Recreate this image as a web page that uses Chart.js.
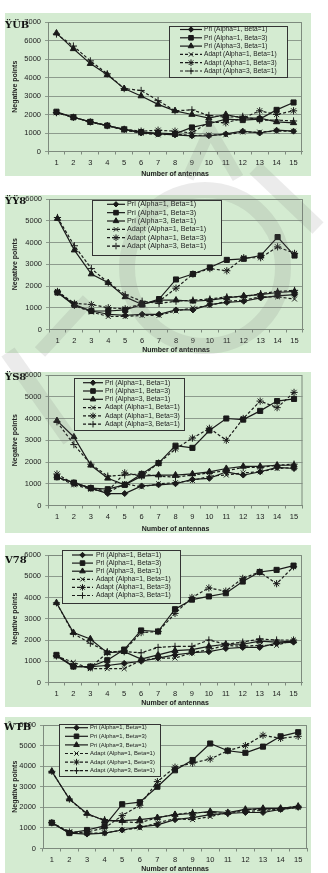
<!DOCTYPE html>
<html>
<head>
<meta charset="utf-8">
<script src="https://cdn.jsdelivr.net/npm/chart.js@4.4.0/dist/chart.umd.min.js"></script>
<style>
  body { margin:0; background:#fff; width:328px; height:873px; position:relative; overflow:hidden; }
  .bg { position:absolute; left:5px; width:306px; background:#d4ebd1; }
  .cv { position:absolute; left:0; }
  #mark { position:absolute; left:0; top:0; pointer-events:none; }
</style>
</head>
<body>
<div id="page"></div>
<svg id="mark" width="328" height="873">
  <g fill="none" stroke="rgba(110,110,110,0.14)" stroke-linecap="butt">
    <path d="M188,178 L210,130 L238,178" stroke-width="12"/>
    <circle cx="205" cy="268" r="78" stroke-width="16"/>
    <path d="M255,168 L318,228" stroke-width="16"/>
    <path d="M40,352 L88,300" stroke-width="14"/>
    <path d="M8,352 L70,440" stroke-width="16"/>
  </g>
</svg>
<script>
// ---- data ----
var antennas = ['1','2','3','4','5','6','7','8','9','10','11','12','13','14','15'];
var seriesNames = ['Pri (Alpha=1, Beta=1)', 'Pri (Alpha=1, Beta=3)', 'Pri (Alpha=3, Beta=1)',
                   'Adapt (Alpha=1, Beta=1)', 'Adapt (Alpha=1, Beta=3)', 'Adapt (Alpha=3, Beta=1)'];
var yMax = [7000, 6000, 6000, 6000, 6000];
var panelTags = ['ŸÜB', 'ŸŸ8', 'ŸS8', 'V78', 'ŴTB'];

// panel 1
var a_pri11 = [2100,1850,1600,1400,1200,1000,950,900,850,850,950,1100,1000,1150,1100];
var a_pri13 = [2150,1850,1600,1400,1200,1050,1000,950,1300,1500,1750,1700,1750,2250,2650];
var a_pri31 = [6400,5550,4750,4150,3400,3000,2550,2200,2000,1800,2000,1800,1800,1600,1550];
var a_ad11  = [2100,1850,1600,1400,1150,1000,900,950,850,900,900,1050,1050,1100,1100];
var a_ad13  = [2100,1850,1600,1400,1200,1100,1150,1100,1000,1600,1550,1800,2200,2000,2200];
var a_ad31  = [6350,5700,4900,4200,3400,3300,2750,2200,2250,1950,1850,1900,1700,1700,1650];
// panel 2
var b_pri11 = [1700,1100,850,700,650,700,700,900,900,1150,1250,1300,1450,1550,1600];
var b_pri13 = [1700,1150,850,850,900,1150,1400,2300,2550,2850,3200,3250,3400,4250,3400];
var b_pri31 = [5100,3650,2550,2150,1500,1150,1350,1350,1300,1350,1450,1550,1600,1700,1750];
var b_ad11  = [1750,1100,800,600,600,650,650,850,1000,1100,1300,1350,1500,1500,1400];
var b_ad13  = [1750,1200,1150,1000,950,1200,1300,1900,2550,2800,2700,3300,3300,3800,3500];
var b_ad31  = [5150,3850,2800,2150,1600,1300,1200,1300,1350,1400,1500,1500,1650,1750,1800];
// panel 3
var c_pri11 = [1300,1050,800,550,550,900,950,1000,1200,1250,1550,1400,1550,1750,1700];
var c_pri13 = [1300,1050,800,750,950,1450,1950,2750,2650,3450,4000,3950,4350,4800,4900];
var c_pri31 = [3900,3150,1850,1250,950,1350,1400,1400,1450,1550,1700,1800,1800,1850,1850];
var c_ad11  = [1300,950,750,600,1000,850,1000,1050,1150,1350,1400,1500,1550,1700,1750];
var c_ad13  = [1450,1000,800,650,1500,1350,1950,2600,3100,3550,3000,4000,4800,4500,5200];
var c_ad31  = [3850,2800,1900,1350,1400,1450,1350,1300,1400,1500,1600,1750,1750,1850,1900];
// panel 4
var d_pri11 = [1250,750,750,800,900,1000,1150,1300,1400,1450,1600,1650,1650,1850,1900];
var d_pri13 = [1300,750,750,1050,1550,2450,2400,3450,3900,4050,4200,4750,5200,5300,5500];
var d_pri31 = [3750,2350,2050,1400,1450,1100,1300,1500,1550,1700,1800,1800,1950,1900,1950];
var d_ad11  = [1250,950,650,650,650,1050,1150,1150,1400,1550,1750,1700,1750,1750,2000];
var d_ad13  = [1250,800,700,1400,1500,2350,2400,3250,4000,4450,4300,4900,5200,4650,5450];
var d_ad31  = [3750,2300,1850,1450,1450,1400,1650,1700,1700,2000,1800,1900,2050,2000,2000];
// panel 5
var e_pri11 = [1250,750,700,750,900,1050,1150,1400,1500,1650,1700,1750,1750,1900,2000];
var e_pri13 = [1250,750,900,1100,2150,2250,3000,3800,4300,5100,4750,4650,4950,5450,5650];
var e_pri31 = [3750,2400,1700,1350,1350,1400,1500,1650,1700,1800,1750,1900,1950,1950,2050];
var e_ad11  = [1250,800,750,750,900,1000,1250,1450,1400,1550,1750,1800,1850,1900,2000];
var e_ad13  = [1250,800,800,1000,1600,2100,3250,3950,4150,4350,4750,5000,5500,5350,5450];
var e_ad31  = [3750,2400,1650,1400,1300,1250,1500,1650,1750,1750,1700,1900,1900,1950,2050];

var panelData = [
  [a_pri11, a_pri13, a_pri31, a_ad11, a_ad13, a_ad31],
  [b_pri11, b_pri13, b_pri31, b_ad11, b_ad13, b_ad31],
  [c_pri11, c_pri13, c_pri31, c_ad11, c_ad13, c_ad31],
  [d_pri11, d_pri13, d_pri31, d_ad11, d_ad13, d_ad31],
  [e_pri11, e_pri13, e_pri31, e_ad11, e_ad13, e_ad31]
];

// ---- layout (page pixels) ----
var layouts = [
  {g:[13,176], plot:[48,302,22,151], titleY:173, tag:[5,25],
   leg:{x:169,y:26,w:118,h:51,row0:29.5,step:8.3,l1:180,l2:202,tx:204,font:6.6}},
  {g:[195,353], plot:[49,303,199,329], titleY:349, tag:[5,201],
   leg:{x:92,y:200,w:129,h:55,row0:204.3,step:8.35,l1:107,l2:125,tx:127,font:7.2}},
  {g:[372,533], plot:[48.5,302.5,375,505], titleY:528, tag:[5,377],
   leg:{x:74,y:378,w:110,h:52,row0:382.7,step:8.3,l1:83,l2:103,tx:105,font:6.8}},
  {g:[545,707], plot:[48,302,555,682], titleY:702, tag:[5,560],
   leg:{x:62,y:550,w:118,h:53,row0:555,step:8.1,l1:72,l2:93,tx:96,font:6.8}},
  {g:[717,873], plot:[43,307,725,848], titleY:868, tag:[4,727],
   leg:{x:59,y:724,w:101,h:52,row0:727.7,step:8.6,l1:65,l2:88,tx:90,font:5.9}}
];

var markers = [
  {pointStyle:'rectRot', dash:[], r:3},
  {pointStyle:'rect', dash:[], r:3.6},
  {pointStyle:'triangle', dash:[], r:3.6},
  {pointStyle:'crossRot', dash:[3,2], r:3.4},
  {pointStyle:'star', dash:[3,2], r:3.6},
  {pointStyle:'cross', dash:[3,2], r:3.6}
];

var FONT = "'Liberation Sans', Arial, sans-serif";
var INK = '#1a1a1a';
var BG = '#d4ebd1';
var page = document.getElementById('page');

// frame, legend and panel tag
var decorPlugin = {
  id: 'decor',
  beforeDatasetsDraw: function(chart) {
    var a = chart.chartArea, ctx = chart.ctx;
    ctx.save();
    ctx.strokeStyle = '#7d8a7d';
    ctx.lineWidth = 1;
    ctx.beginPath();
    ctx.moveTo(a.left, a.top + 0.5);
    ctx.lineTo(a.right - 0.5, a.top + 0.5);
    ctx.lineTo(a.right - 0.5, a.bottom);
    ctx.stroke();
    ctx.restore();
  },
  afterDraw: function(chart) {
    var o = chart.options.plugins.decor;
    var L = o.leg, off = o.off, ctx = chart.ctx;
    ctx.save();
    ctx.fillStyle = BG;
    ctx.fillRect(L.x, L.y - off, L.w, L.h);
    ctx.strokeStyle = '#333';
    ctx.lineWidth = 1;
    ctx.strokeRect(L.x + 0.5, L.y - off + 0.5, L.w, L.h);
    for (var i = 0; i < seriesNames.length; i++) {
      var y = L.row0 + i * L.step - off;
      ctx.strokeStyle = INK;
      ctx.lineWidth = 1.2;
      ctx.setLineDash(markers[i].dash);
      ctx.beginPath();
      ctx.moveTo(L.l1, y);
      ctx.lineTo(L.l2, y);
      ctx.stroke();
      ctx.setLineDash([]);
      ctx.fillStyle = INK;
      ctx.lineWidth = 1;
      Chart.helpers.drawPoint(ctx, {pointStyle: markers[i].pointStyle, radius: markers[i].r * 0.9, rotation: 0, borderWidth: 1}, (L.l1 + L.l2) / 2, y);
      ctx.fillStyle = '#222';
      ctx.font = L.font + 'px ' + FONT;
      ctx.textBaseline = 'middle';
      ctx.textAlign = 'left';
      ctx.fillText(seriesNames[i], L.tx, y);
    }
    ctx.fillStyle = '#111';
    ctx.font = 'bold 10px "DejaVu Serif", serif';
    ctx.textBaseline = 'middle';
    ctx.fillText(o.tag, o.tagXY[0], o.tagXY[1] - off);
    ctx.restore();
  }
};

panelData.forEach(function(series, p) {
  var lay = layouts[p];
  var bg = document.createElement('div');
  bg.className = 'bg';
  bg.style.top = lay.g[0] + 'px';
  bg.style.height = (lay.g[1] - lay.g[0]) + 'px';
  page.appendChild(bg);

  var cTop = lay.g[0] - 10;
  var cBot = lay.titleY + 4.5;
  var cv = document.createElement('canvas');
  cv.className = 'cv';
  cv.width = 328;
  cv.height = Math.round(cBot - cTop);
  cv.style.top = cTop + 'px';
  page.appendChild(cv);

  var pl = lay.plot;
  var datasets = series.map(function(vals, i) {
    return {
      label: seriesNames[i],
      data: vals,
      borderColor: INK,
      backgroundColor: INK,
      borderWidth: 1.2,
      borderDash: markers[i].dash,
      pointStyle: markers[i].pointStyle,
      pointRadius: markers[i].r,
      pointBorderWidth: 1,
      pointBackgroundColor: INK,
      pointBorderColor: INK,
      tension: 0
    };
  });

  new Chart(cv, {
    type: 'line',
    data: { labels: antennas, datasets: datasets },
    options: {
      responsive: false,
      animation: false,
      devicePixelRatio: 1,
      layout: { padding: { left: 0, right: 328 - pl[1], top: pl[2] - cTop, bottom: 0 } },
      plugins: {
        legend: { display: false },
        tooltip: { enabled: false },
        decor: { leg: lay.leg, off: cTop, tag: panelTags[p], tagXY: lay.tag }
      },
      scales: {
        x: {
          offset: true,
          grid: { display: true, offset: true, drawOnChartArea: false, drawTicks: true, tickLength: 3, color: '#7d8a7d' },
          border: { color: '#7d8a7d' },
          ticks: { font: { size: 7.5, family: FONT }, color: '#222', padding: 4, maxRotation: 0, autoSkip: false },
          title: { display: true, text: 'Number of antennas', font: { size: 7, weight: 'bold', family: FONT }, color: '#222', padding: 0 },
          afterFit: function(s) { s.height = cBot - pl[3]; }
        },
        y: {
          min: 0,
          max: yMax[p],
          grid: { color: '#8d9b8d', tickLength: 3 },
          border: { color: '#7d8a7d' },
          ticks: { stepSize: 1000, font: { size: 7.5, family: FONT }, color: '#222', padding: 4,
                   callback: function(v) { return String(v); } },
          title: { display: true, text: 'Negative points', font: { size: 7, weight: 'bold', family: FONT }, color: '#222', padding: { top: 11, bottom: 0 } },
          afterFit: function(s) { s.width = pl[0]; }
        }
      }
    },
    plugins: [decorPlugin]
  });
});
</script>
</body>
</html>
